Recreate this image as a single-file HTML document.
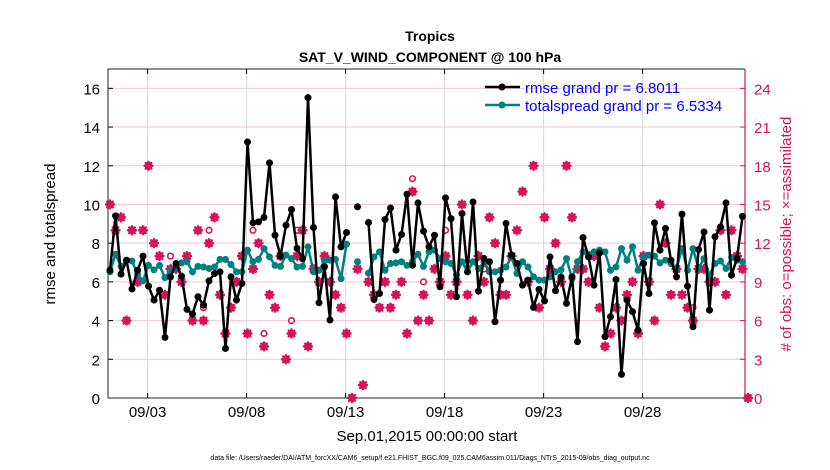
<!DOCTYPE html>
<html><head><meta charset="utf-8"><style>
body{margin:0;background:#fff;}
svg{display:block;font-family:"Liberation Sans",sans-serif;}
</style></head><body>
<svg id="chart" width="830" height="470" viewBox="0 0 830 470">
<text x="430" y="41" text-anchor="middle" font-size="14" font-weight="bold">Tropics</text>
<text x="430" y="62" text-anchor="middle" font-size="14" font-weight="bold">SAT_V_WIND_COMPONENT @ 100 hPa</text>
<text x="427" y="441" text-anchor="middle" font-size="15">Sep.01,2015 00:00:00 start</text>
<text x="430" y="460" text-anchor="middle" font-size="7">data file: /Users/raeder/DAI/ATM_forcXX/CAM6_setup/f.e21.FHIST_BGC.f09_025.CAM6assim.011/Diags_NTrS_2015-09/obs_diag_output.nc</text>
<text transform="translate(55,234) rotate(-90)" text-anchor="middle" font-size="15">rmse and totalspread</text>
<text transform="translate(791,234) rotate(-90)" text-anchor="middle" font-size="15" fill="#d6125a"># of obs: o=possible; ×=assimilated</text>
<g id="grid"></g>
<g id="axes"></g>
<g id="obs"></g>
<g id="series"></g>
<g id="legend">
 <line x1="485" y1="87" x2="520" y2="87" stroke="#000" stroke-width="2.5"/>
 <circle cx="502" cy="87" r="3.5" fill="#000"/>
 <text x="525" y="93" font-size="15" fill="#0000ff">rmse grand pr = 6.8011</text>
 <line x1="485" y1="105" x2="520" y2="105" stroke="#008080" stroke-width="2.5"/>
 <circle cx="502" cy="105" r="3.5" fill="#008080"/>
 <text x="525" y="111" font-size="15" fill="#0000ff">totalspread grand pr = 6.5334</text>
</g>
</svg>
<script>
const rmse=[6.6,9.41,6.4,7.12,5.63,6.6,7.33,5.78,5.06,5.57,3.13,6.26,6.95,6.3,4.58,4.34,5.23,4.8,6.05,6.43,6.52,2.56,6.26,5.06,5.92,13.23,9.05,9.1,9.33,12.15,
8.41,7.33,8.93,9.74,7.73,7.2,15.52,8.81,4.92,6.78,4.03,10.39,7.81,8.55,null,9.88,null,9.07,5.09,5.4,9.22,9.82,7.64,8.45,10.53,6.86,10.08,8.62,7.81,8.41,
5.75,10.34,9.27,5.23,9.53,6.52,10.13,5.52,7.21,7.04,3.94,6.09,9.02,7.38,6.95,5.83,6.09,4.68,5.61,5.02,7.29,5.54,6.26,4.89,6.26,2.91,8.29,7.29,
5.83,7.5,3.17,4.2,6.12,1.22,5.06,4.46,3.51,6.95,5.4,9.05,7.64,8.76,7.12,6.26,9.5,5.78,3.68,7.67,8.58,4.54,8.33,8.84,10.08,6.35,7.21,9.39,null];
const spread=[6.52,7.43,6.8,7.12,7.08,6.4,6.05,6.85,6.62,6.85,6.22,6.6,6.69,6.98,7.04,6.52,6.8,6.77,6.69,6.77,7.16,7.16,6.9,6.52,6.52,7.64,7.04,7.16,7.72,7.29,
6.85,6.8,7.38,7.2,6.77,6.8,7.81,6.52,6.6,7.08,7.12,7.16,6.17,7.95,null,7.04,null,6.45,7.29,7.55,6.6,6.95,6.98,7.04,6.85,7.04,7.43,6.8,7.55,7.64,
7.2,7.04,6.95,6.35,7.04,6.52,7.04,6.69,7.04,6.52,6.52,6.6,6.77,7.29,6.43,7.04,6.77,6.26,6.09,6.09,6.26,6.52,6.62,7.2,6.17,7.04,7.55,7.43,
7.55,7.64,7.55,6.6,6.77,7.72,7.12,7.81,6.6,7.29,7.38,7.33,6.98,7.12,6.95,6.69,7.72,6.6,7.72,6.69,7.2,6.35,6.95,7.08,6.69,7.26,7.12,7.04,null];
const nAssim=[15,13,14,6,13,9,13,18,12,11,8,10,10,9,11,6,13,6,12,14,8,5,7,9,11,5,10,12,4,8,
7,11,3,5,11,13,4,10,9,11,9,8,7,5,0,10,1,9,8,7,9,7,8,9,5,16,6,8,6,10,
9,11,8,9,15,8,6,11,9,14,12,8,8,11,13,16,9,18,7,14,10,12,9,18,14,10,10,
9,11,7,4,5,7,6,8,9,5,11,9,6,15,12,8,10,8,7,6,10,10,9,9,13,8,13,11,10,0];
const nPoss=[15,13,14,6,13,9,13,18,12,11,8,11,10,9,11,6,13,7,13,14,8,5,7,9,11,5,13,12,5,8,
7,11,3,6,13,13,4,10,9,11,9,8,7,5,0,10,1,9,8,7,9,7,8,9,5,17,6,9,6,10,
9,13,8,9,15,8,6,11,10,14,12,8,8,11,13,16,9,18,7,14,10,12,9,18,14,10,10,
9,11,7,4,5,7,6,8,9,5,11,9,6,15,12,8,10,8,7,7,10,10,9,9,13,8,13,11,10,0];
const yTicks=[0,2,4,6,8,10,12,14,16];
const y2Ticks=[0,3,6,9,12,15,18,21,24];
const xTickDays=[2,7,12,17,22,27];
const xTickLabels=["09/03","09/08","09/13","09/18","09/23","09/28"];

const L=108,R=745,T=69,B=398;
const NS="http://www.w3.org/2000/svg";
const y=v=>B-(v/17)*(B-T);
const y2=v=>B-(v/25.5)*(B-T);
const xi=i=>110+i*(632.5/115);
const xd=d=>L+d*19.8;
function mk(tag,attrs,parent){const e=document.createElementNS(NS,tag);for(const k in attrs)e.setAttribute(k,attrs[k]);parent.appendChild(e);return e;}
const grid=document.getElementById('grid'),axes=document.getElementById('axes'),obs=document.getElementById('obs'),ser=document.getElementById('series');
const RED="#d6125a";
yTicks.forEach((t,k)=>{
 if(t>0){const g=mk('line',{x1:L,x2:R,y1:y(t),y2:y(t),stroke:"#f2c4d6","stroke-width":1},grid);
 
 }
 const tl=mk('text',{x:L-8,y:y(t)+6,"text-anchor":"end","font-size":15},axes);tl.textContent=t;
 
 
 mk('line',{x1:L,x2:L+5,y1:y(t),y2:y(t),stroke:"#000"},axes);
});
y2Ticks.forEach(t=>{
 const tl=mk('text',{x:R+9,y:y2(t)+6,"font-size":15,fill:RED},axes);tl.textContent=t;
 
 
 mk('line',{x1:R-5,x2:R,y1:y2(t),y2:y2(t),stroke:RED},axes);
});
xTickDays.forEach((d,k)=>{
 const g=mk('line',{x1:xd(d),x2:xd(d),y1:T,y2:B,stroke:"#d8d8d8","stroke-width":1},grid);
 
 
 mk('line',{x1:xd(d),x2:xd(d),y1:B,y2:B-5,stroke:"#000"},axes);
 mk('line',{x1:xd(d),x2:xd(d),y1:T,y2:T+5,stroke:"#000"},axes);
 const tl=mk('text',{x:xd(d),y:B+19,"text-anchor":"middle","font-size":15},axes);tl.textContent=xTickLabels[k];
 
 
});
mk('path',{d:`M${L},${B}V${T}H${R}`,fill:"none",stroke:"#222","stroke-width":1},axes);
mk('line',{x1:L,x2:R,y1:B,y2:B,stroke:"#222"},axes);
mk('line',{x1:R,x2:R,y1:T,y2:B,stroke:RED,"stroke-width":1.2},axes);

nPoss.forEach((v,i)=>{
 if(v!==nAssim[i]){const c=mk('circle',{cx:xi(i),cy:y2(v),r:2.8,fill:"#fff",stroke:RED,"stroke-width":1.6},obs);
 
 }
});
nAssim.forEach((v,i)=>{
 const cx=xi(i),cy=y2(v),s=4;
 const g=mk('path',{d:`M${cx-s},${cy}H${cx+s}M${cx},${cy-s}V${cy+s}M${cx-2.8},${cy-2.8}L${cx+2.8},${cy+2.8}M${cx-2.8},${cy+2.8}L${cx+2.8},${cy-2.8}M${cx},${cy-3.5}L${cx+3.5},${cy}L${cx},${cy+3.5}L${cx-3.5},${cy}Z`,stroke:RED,"stroke-width":2.4,"stroke-linecap":"round",fill:RED},obs);
 
 
});
function series(arr,color,name){
 let d="",pen=false;
 arr.forEach((v,i)=>{if(v===null){pen=false;return;}d+=(pen?"L":"M")+xi(i).toFixed(1)+","+y(v).toFixed(1);pen=true;});
 const p=mk('path',{d:d,fill:"none",stroke:color,"stroke-width":2.5,"stroke-linejoin":"round"},ser);
 
 
 arr.forEach((v,i)=>{if(v===null)return;
  const c=mk('circle',{cx:xi(i),cy:y(v),r:3.5,fill:color},ser);
  
  
 });
}
series(spread,"#008080","totalspread");
series(rmse,"#000","rmse");
</script>
</body></html>
